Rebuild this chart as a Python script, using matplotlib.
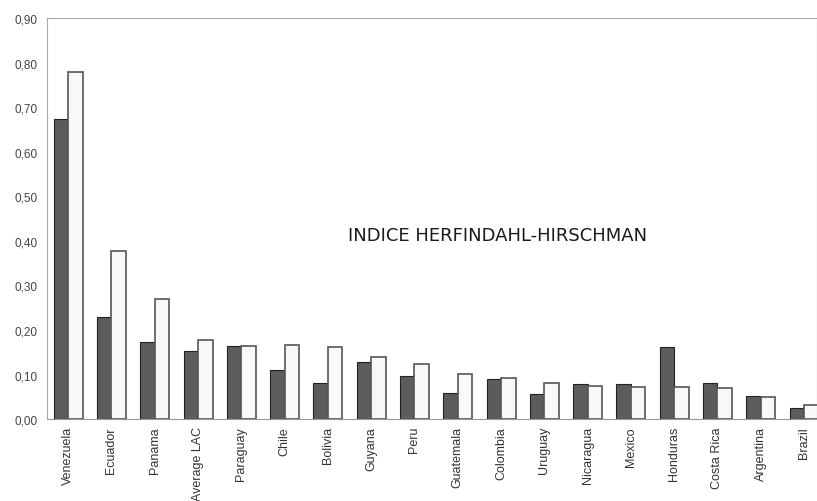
import matplotlib
matplotlib.use('Agg')
import matplotlib.pyplot as plt
import numpy as np

countries = ['Venezuela', 'Ecuador', 'Panama', 'Average LAC', 'Paraguay', 'Chile',
             'Bolivia', 'Guyana', 'Peru', 'Guatemala', 'Colombia', 'Uruguay',
             'Nicaragua', 'Mexico', 'Honduras', 'Costa Rica', 'Argentina', 'Brazil']
dark_vals = [0.673, 0.229, 0.173, 0.153, 0.164, 0.110, 0.081, 0.128, 0.097, 0.058,
             0.090, 0.057, 0.080, 0.078, 0.161, 0.081, 0.051, 0.026]
light_vals = [0.779, 0.377, 0.269, 0.177, 0.165, 0.166, 0.162, 0.139, 0.123, 0.101,
              0.093, 0.082, 0.074, 0.073, 0.072, 0.071, 0.049, 0.032]
yticks = [0.0, 0.1, 0.2, 0.3, 0.4, 0.5, 0.6, 0.7, 0.8, 0.9]

fig = plt.figure(figsize=(8.17, 5.02), dpi=100)
ax = fig.add_axes([0.0575, 0.163, 0.9425, 0.799])

x = np.arange(len(countries))
w = 0.335
ax.bar(x - w/2, dark_vals, w, color='#5c5c5c', edgecolor='#222222', linewidth=0.8)
ax.bar(x + w/2, light_vals, w, color='#f8f8f8', edgecolor='#555555', linewidth=1.2)

ax.set_xlim(-0.49, 17.3)
ax.set_ylim(0, 0.9)
ax.set_yticks(yticks)
ax.set_yticklabels([('%.2f' % v).replace('.', ',') for v in yticks],
                   fontsize=8.5, color='#444444', family='Liberation Sans')
ax.set_xticks(x)
ax.set_xticklabels(countries, rotation=90, fontsize=9, color='#333333', family='Liberation Sans')
ax.tick_params(axis='y', length=0, pad=7)
ax.tick_params(axis='x', length=0, pad=5)

for s in ['left', 'top', 'right']:
    ax.spines[s].set_color('#aaaaaa')
ax.spines['bottom'].set_color('#999999')

ax.text(0.585, 0.459, 'INDICE HERFINDAHL-HIRSCHMAN', transform=ax.transAxes,
        ha='center', va='center', fontsize=13, color='#1a1a1a',
        bbox=dict(facecolor='white', edgecolor='none', pad=14))

fig.savefig('out.png', dpi=100)
